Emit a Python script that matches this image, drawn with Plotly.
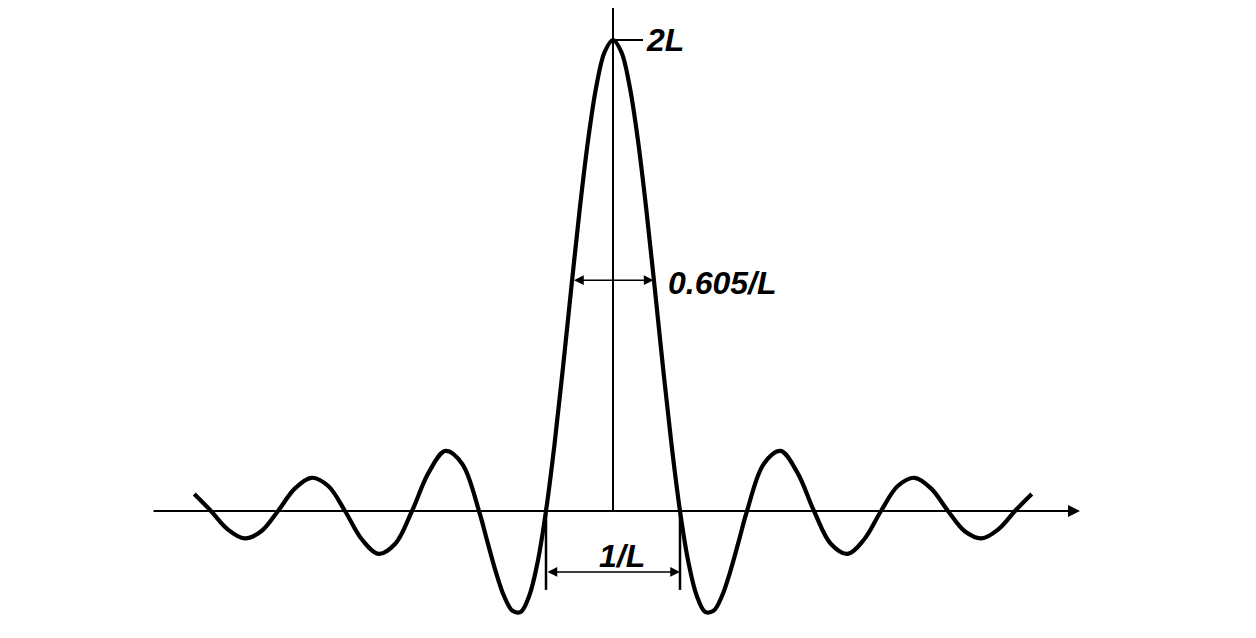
import plotly.graph_objects as go

# Sinc-shaped spectrum, values (L = 1, peak = 2L)
f_vals = [-3.125, -3.0, -2.875, -2.75, -2.625, -2.5, -2.375, -2.25, -2.125, -2.0,
          -1.875, -1.75, -1.625, -1.5, -1.375, -1.25, -1.125, -1.0, -0.9375, -0.875,
          -0.8125, -0.75, -0.6875, -0.625, -0.5625, -0.5, -0.4375, -0.375, -0.3125,
          -0.25, -0.1875, -0.125, -0.0625, 0.0,
          0.0625, 0.125, 0.1875, 0.25, 0.3125, 0.375, 0.4375, 0.5, 0.5625, 0.625,
          0.6875, 0.75, 0.8125, 0.875, 0.9375, 1.0, 1.125, 1.25, 1.375, 1.5, 1.625,
          1.75, 1.875, 2.0, 2.125, 2.25, 2.375, 2.5, 2.625, 2.75, 2.875, 3.0, 3.125]
amp_vals = [0.072, 0.0, -0.078, -0.116, -0.086, 0.0, 0.095, 0.141, 0.106, 0.0,
            -0.120, -0.182, -0.139, 0.0, 0.164, 0.255, 0.200, 0.0, -0.130, -0.257,
            -0.362, -0.424, -0.428, -0.360, -0.217, 0.0, 0.278, 0.600, 0.941,
            1.273, 1.568, 1.801, 1.949, 2.0,
            1.949, 1.801, 1.568, 1.273, 0.941, 0.600, 0.278, 0.0, -0.217, -0.360,
            -0.428, -0.424, -0.362, -0.257, -0.130, 0.0, 0.200, 0.255, 0.164, 0.0, -0.139,
            -0.182, -0.120, 0.0, 0.106, 0.141, 0.095, 0.0, -0.086, -0.116, -0.078, 0.0, 0.072]

PEAK = 2.0
HALF_WIDTH = 0.605 / 2
HALF_LEVEL = 0.98
MAIN_WIDTH = 1.0
labels = {"peak": "2L", "half": "0.605/L", "main": "1/L"}

X_AXIS = (-3.44, 3.485)
Y_AXIS_TOP = 2.136
MAIN_ARROW_Y = -0.259
MAIN_LINE_BOTTOM = -0.335

black = "#000000"
font = dict(family="Liberation Sans, Arial, sans-serif", size=32, color=black,
            weight="bold", style="italic")

# page offset of the figure (default body margin) and scale
OFF = 8
X0, XS = 613, 134.0
Y0, YS = 511, 235.5
W, H = 1256 - 2 * OFF, 638 - 2 * OFF

fig = go.Figure()
fig.add_trace(go.Scatter(x=f_vals, y=amp_vals, mode="lines",
                         line=dict(color=black, width=4.2, shape="spline", smoothing=1),
                         hoverinfo="skip", showlegend=False))

shapes = [
    dict(type="line", x0=0, x1=0, y0=0, y1=Y_AXIS_TOP, line=dict(color=black, width=2)),
    dict(type="line", x0=0, x1=0.224, y0=PEAK, y1=PEAK, line=dict(color=black, width=2)),
    dict(type="line", x0=-MAIN_WIDTH / 2, x1=-MAIN_WIDTH / 2, y0=0.013, y1=MAIN_LINE_BOTTOM,
         line=dict(color=black, width=2.5)),
    dict(type="line", x0=MAIN_WIDTH / 2, x1=MAIN_WIDTH / 2, y0=0.013, y1=MAIN_LINE_BOTTOM,
         line=dict(color=black, width=2.5)),
]

annotations = [
    dict(x=X_AXIS[1], y=0, ax=X_AXIS[0], ay=0, axref="x", ayref="y", xref="x", yref="y",
         text="", showarrow=True, arrowhead=2, arrowsize=1.2, arrowwidth=2, arrowcolor=black,
         standoff=0, startstandoff=0),
    dict(x=HALF_WIDTH, y=HALF_LEVEL, ax=-HALF_WIDTH, ay=HALF_LEVEL, axref="x", ayref="y",
         xref="x", yref="y", text="", showarrow=True, arrowhead=2, startarrowhead=2,
         arrowside="end+start", arrowsize=1.3, startarrowsize=1.3, arrowwidth=1.5,
         arrowcolor=black, standoff=0, startstandoff=0),
    dict(x=MAIN_WIDTH / 2, y=MAIN_ARROW_Y, ax=-MAIN_WIDTH / 2, ay=MAIN_ARROW_Y, axref="x",
         ayref="y", xref="x", yref="y", text="", showarrow=True, arrowhead=2,
         startarrowhead=2, arrowside="end+start", arrowsize=1.3, startarrowsize=1.3,
         arrowwidth=1.5, arrowcolor=black, standoff=0, startstandoff=0),
    dict(x=0.235, y=PEAK, text=labels["peak"], showarrow=False, xanchor="left",
         yanchor="middle", font=font),
    dict(x=0.395, y=0.97, text=labels["half"], showarrow=False, xanchor="left",
         yanchor="middle", font=font),
    dict(x=0.067, y=-0.19, text=labels["main"], showarrow=False, xanchor="center",
         yanchor="middle", font=font),
]

fig.update_layout(
    width=W, height=H,
    margin=dict(l=0, r=0, t=0, b=0, pad=0),
    paper_bgcolor="white", plot_bgcolor="white",
    xaxis=dict(range=[(OFF - X0) / XS, (OFF + W - X0) / XS], visible=False, fixedrange=True),
    yaxis=dict(range=[(Y0 - OFF - H) / YS, (Y0 - OFF) / YS], visible=False, fixedrange=True),
    shapes=shapes, annotations=annotations, showlegend=False,
)

fig.write_html("out.html")
